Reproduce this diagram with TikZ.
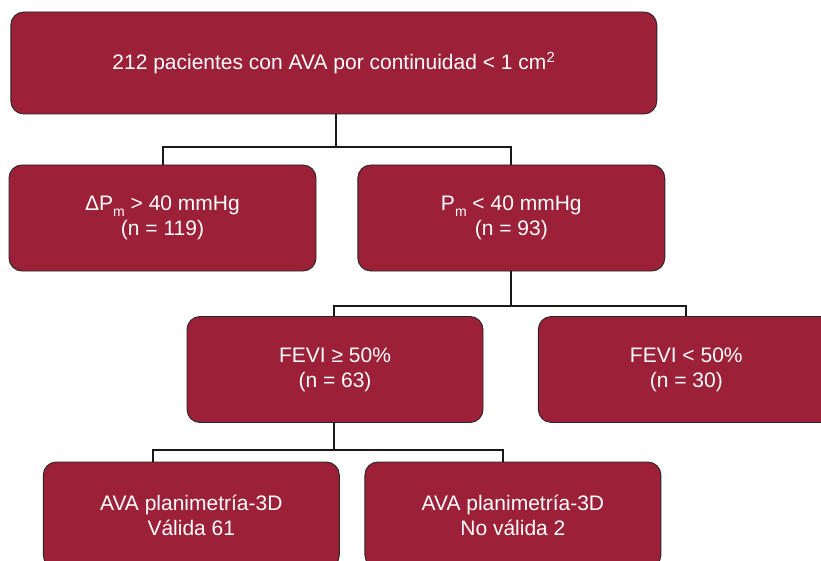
\documentclass[tikz,border=0pt]{standalone}
\usepackage{fontspec}
\setmainfont{Liberation Sans}
\usepackage{xcolor}
\usetikzlibrary{calc}
\definecolor{boxred}{RGB}{155,32,56}
\newcommand{\lowsub}[1]{\raisebox{-5.5pt}{\fontsize{14}{14}\selectfont #1}}
\tikzset{
	group/.style={draw=black!85, line width=0.9pt, fill=boxred, rounded corners=13pt,
		text=white, align=center, font=\fontsize{21}{25}\selectfont, inner sep=0pt},
	link/.style={line width=2pt, black!90}
}

\begin{document}
\begin{tikzpicture}[x=1pt, y=-1pt]
	\clip (0,0) rectangle (821,561);
	\node[group, minimum width=646pt, minimum height=102pt] (total) at (333.8,63) {212 pacientes con AVA por continuidad < 1 cm\textsuperscript{2}};
	\node[group, minimum width=307pt, minimum height=106pt] (high) at (162.5,218) {ΔP\lowsub{m} > 40 mmHg\\(n = 119)};
	\node[group, minimum width=307pt, minimum height=106pt] (low) at (511.3,218) {P\lowsub{m} < 40 mmHg\\(n = 93)};
	\node[group, minimum width=296pt, minimum height=106pt] (fevihi) at (335,369.5) {FEVI ≥ 50\%\\(n = 63)};
	\node[group, minimum width=296pt, minimum height=106pt] (fevilo) at (686.3,369.5) {FEVI < 50\%\\(n = 30)};
	\node[group, minimum width=296pt, minimum height=106pt] (valid) at (191.3,515) {AVA planimetría-3D\\Válida 61};
	\node[group, minimum width=296pt, minimum height=106pt] (invalid) at (512.9,515) {AVA planimetría-3D\\No válida 2};

	\coordinate (split1) at (336,146.7);
	\coordinate (split2) at (511.3,305.7);
	\coordinate (split3) at (333.5,450);
	\draw[link] (total.south -| split1) -- (split1);
	\draw[link] (high.north) |- (split1) -| (low.north);
	\draw[link] (low.south) -- (split2);
	\draw[link] (fevihi.north -| split3) |- (split2) -| (fevilo.north);
	\draw[link] (fevihi.south -| split3) -- (split3);
	\draw[link] ($(valid.north)+(-38,0)$) |- (split3) -| ($(invalid.north)+(-9.6,0)$);
\end{tikzpicture}
\end{document}
